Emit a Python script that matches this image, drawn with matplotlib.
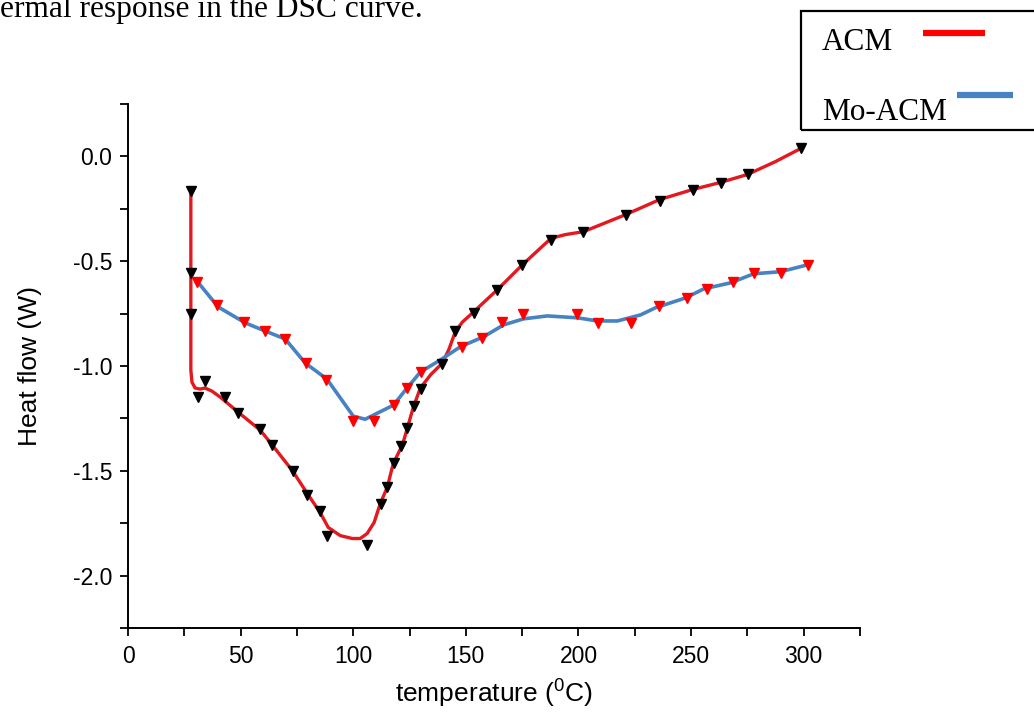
import matplotlib
matplotlib.use('Agg')
import matplotlib.pyplot as plt
from matplotlib.lines import Line2D
from matplotlib.patches import Rectangle
from matplotlib.ticker import MultipleLocator

# ACM curve (red line)
acm_x = [27.9, 27.9, 28.4, 29.8, 32.0, 34.2, 37.3, 40.9, 48.9, 58.7, 63.1, 72.9,
         79.6, 85.3, 88.9, 94.2, 99.6, 103.1, 106.2, 109.3, 112.0, 115.1, 117.8,
         121.8, 124.0, 126.7, 129.8, 134.5, 139.6, 142.5, 145.3, 148.5, 152.0,
         164.0, 175.1, 186.7, 190.5, 194.2, 202.2, 220.9, 236.0, 250.7, 263.1,
         275.1, 287.6, 298.7]
acm_y = [-0.172, -1.02, -1.077, -1.105, -1.11, -1.105, -1.12, -1.148, -1.22, -1.306,
         -1.364, -1.498, -1.608, -1.699, -1.770, -1.809, -1.823, -1.823, -1.799,
         -1.746, -1.656, -1.579, -1.464, -1.378, -1.297, -1.196, -1.105, -1.04,
         -0.986, -0.92, -0.837, -0.79, -0.756, -0.636, -0.517, -0.402, -0.383,
         -0.373, -0.359, -0.278, -0.206, -0.158, -0.124, -0.086, -0.024, 0.038]

# ACM markers (black triangles)
acm_mx = [27.9, 27.9, 27.9, 34.2, 31.0, 43.1, 48.9, 58.7, 64.0, 73.3, 79.6, 85.3,
          88.4, 106.2, 112.4, 115.1, 118.2, 121.3, 124.0, 127.1, 130.2, 139.6,
          145.3, 153.8, 164.0, 175.1, 187.6, 202.2, 220.9, 236.0, 250.7, 263.1,
          275.1, 298.7]
acm_my = [-0.166, -0.555, -0.751, -1.072, -1.148, -1.148, -1.225, -1.301, -1.378,
          -1.502, -1.617, -1.694, -1.813, -1.856, -1.656, -1.579, -1.464, -1.383,
          -1.297, -1.191, -1.110, -0.990, -0.833, -0.746, -0.636, -0.517, -0.397,
          -0.359, -0.278, -0.211, -0.158, -0.129, -0.086, 0.038]

# Mo-ACM curve (blue line)
mo_x = [30.8, 40.0, 52.0, 60.9, 69.8, 78.7, 88.3, 100.0, 105.3, 117.8, 123.9,
        129.8, 138.7, 147.6, 157.8, 166.7, 175.6, 186.2, 199.6, 208.4, 217.3,
        227.6, 234.2, 247.6, 255.6, 267.6, 277.8, 289.8, 301.8]
mo_y = [-0.597, -0.718, -0.794, -0.833, -0.871, -0.986, -1.062, -1.239, -1.254,
        -1.187, -1.105, -1.029, -0.971, -0.908, -0.861, -0.804, -0.775, -0.761,
        -0.770, -0.785, -0.785, -0.756, -0.722, -0.675, -0.632, -0.603, -0.560,
        -0.550, -0.517]

# Mo-ACM markers (red triangles)
mo_mx = [30.8, 39.7, 51.7, 60.9, 69.8, 79.1, 88.0, 100.1, 109.3, 118.2, 123.9,
         130.2, 148.3, 157.2, 166.1, 175.4, 199.4, 208.8, 223.4, 235.6, 248.0,
         256.9, 268.8, 278.0, 290.1, 302.1]
mo_my = [-0.597, -0.711, -0.791, -0.831, -0.871, -0.987, -1.067, -1.263, -1.262,
         -1.187, -1.107, -1.027, -0.908, -0.868, -0.791, -0.751, -0.751, -0.793,
         -0.793, -0.713, -0.675, -0.632, -0.597, -0.557, -0.557, -0.517]

red = '#e3191f'
blue = '#4782c2'

fig = plt.figure(figsize=(10.34, 7.13), dpi=100)
ax = fig.add_axes([0.1238, 0.1192, 0.7079, 0.7349])

ax.plot(acm_x, acm_y, color=red, lw=2.4, solid_joinstyle='round', zorder=2)
ax.plot(mo_x, mo_y, color=blue, lw=2.6, solid_joinstyle='round', zorder=2)
ax.plot(acm_mx, acm_my, 'v', color='black', ms=7, ls='none', zorder=3)
ax.plot(mo_mx, mo_my, 'v', color='#ff0000', ms=7, ls='none', zorder=3)

ax.set_xlim(0, 325)
ax.set_ylim(-2.25, 0.25)
ax.xaxis.set_major_locator(MultipleLocator(50))
ax.xaxis.set_minor_locator(MultipleLocator(25))
ax.yaxis.set_major_locator(MultipleLocator(0.5))
ax.yaxis.set_minor_locator(MultipleLocator(0.25))
ax.yaxis.set_major_formatter(matplotlib.ticker.FormatStrFormatter('%.1f'))

for s in ['top', 'right']:
    ax.spines[s].set_visible(False)
for s in ['left', 'bottom']:
    ax.spines[s].set_linewidth(1.4)
ax.tick_params(which='both', direction='out', length=5.5, width=1.3,
               labelsize=16.5, labelfontfamily='Liberation Sans')
ax.tick_params(axis='x', pad=7)
ax.tick_params(axis='y', pad=6)

ax.set_xlabel(r'temperature ($\mathregular{^0}$C)', fontsize=19,
              family='Liberation Sans', labelpad=7)
ax.set_ylabel('Heat flow (W)', fontsize=19, family='Liberation Sans', labelpad=22)

# cut-off text from the page above the chart
fig.text(0.0, 1 - 17 / 713, 'ermal response in the DSC curve.', fontsize=22.6,
         family='Liberation Serif', va='baseline', ha='left')

# hand-drawn legend box
W, H = 1034.0, 713.0
fig.patches.append(Rectangle((801 / W, 1 - 130 / H), 300 / W, 119 / H,
                             transform=fig.transFigure, fill=False,
                             edgecolor='black', lw=1.6))
fig.text(822 / W, 1 - 50 / H, 'ACM', fontsize=22.5, family='Liberation Serif',
         va='baseline', ha='left')
fig.text(822 / W, 1 - 120 / H, 'Mo-ACM', fontsize=22.5, family='Liberation Serif',
         va='baseline', ha='left')
fig.lines.append(Line2D([923 / W, 985 / W], [1 - 33 / H, 1 - 33 / H],
                        transform=fig.transFigure, color='#ff0000', lw=4.5,
                        solid_capstyle='butt'))
fig.lines.append(Line2D([957 / W, 1013 / W], [1 - 95 / H, 1 - 95 / H],
                        transform=fig.transFigure, color=blue, lw=4.5,
                        solid_capstyle='butt'))

fig.savefig('out.png', dpi=100, facecolor='w')
